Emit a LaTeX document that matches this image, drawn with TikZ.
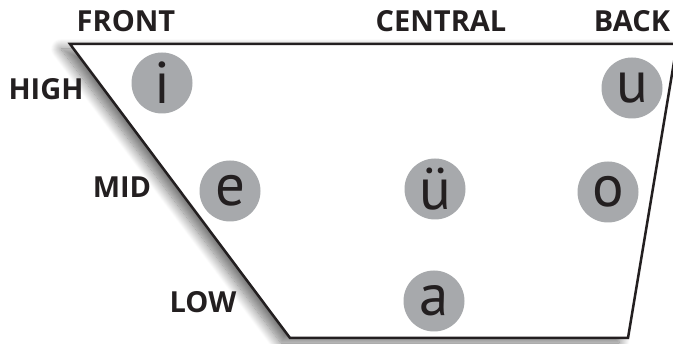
\documentclass[tikz,border=0pt]{standalone}
\usepackage{fontspec}
\setmainfont{Open Sans}
\newfontfamily\vowelfont{PT Sans}
% semibold face for the axis labels when one is available
\IfFontExistsTF{Open Sans SemiBold}
  {\newfontfamily\labelfont{Open Sans SemiBold}}
  {\newfontfamily\labelfont{Open Sans}[UprightFont=*-Bold]}
\usetikzlibrary{shadows.blur}
\definecolor{ink}{HTML}{231F20}
\definecolor{vowelgray}{HTML}{A7A9AC}
\begin{document}
\begin{tikzpicture}[x=1pt,y=-1pt,
  axislabel/.style={font=\labelfont\fontsize{29}{29}\selectfont, text=ink, inner sep=0pt},
  vowel/.style={circle, fill=vowelgray, minimum size=61pt, inner sep=0pt, text=ink,
                font=\vowelfont\fontsize{59}{59}\selectfont},
  chart/.style={draw=ink, line width=2.5pt, fill=white,
                blur shadow={shadow xshift=-9pt, shadow yshift=-5pt,
                             shadow blur radius=10pt, shadow opacity=55,
                             shadow blur steps=14}},
]
\useasboundingbox (0,0) rectangle (673,344);

% vowel quadrilateral
\coordinate (tl) at (70,44);
\coordinate (tr) at (677,44);
\coordinate (br) at (628,338);
\coordinate (bl) at (290,338);
\draw[chart] (tl) -- (tr) -- (br) -- (bl) -- cycle;

% axis labels
\node[axislabel] (front)   at (126,21)  {FRONT};
\node[axislabel] (central) at (441,21)  {CENTRAL};
\node[axislabel] (back)    at (632,21)  {BACK};
\node[axislabel] (high)    at (46,89)   {HIGH};
\node[axislabel] (mid)     at (122,187) {MID};
\node[axislabel] (low)     at (203,302) {LOW};

% vowels
\node[vowel] (vi) at (162,83)  {i};
\node[vowel] (vu) at (632,88)  {u};
\node[vowel] (ve) at (230,191) {e};
\node[vowel] (vue) at (435,189) {ü};
\node[vowel] (vo) at (608,192) {o};
\node[vowel] (va) at (434,301) {a};
\end{tikzpicture}
\end{document}
